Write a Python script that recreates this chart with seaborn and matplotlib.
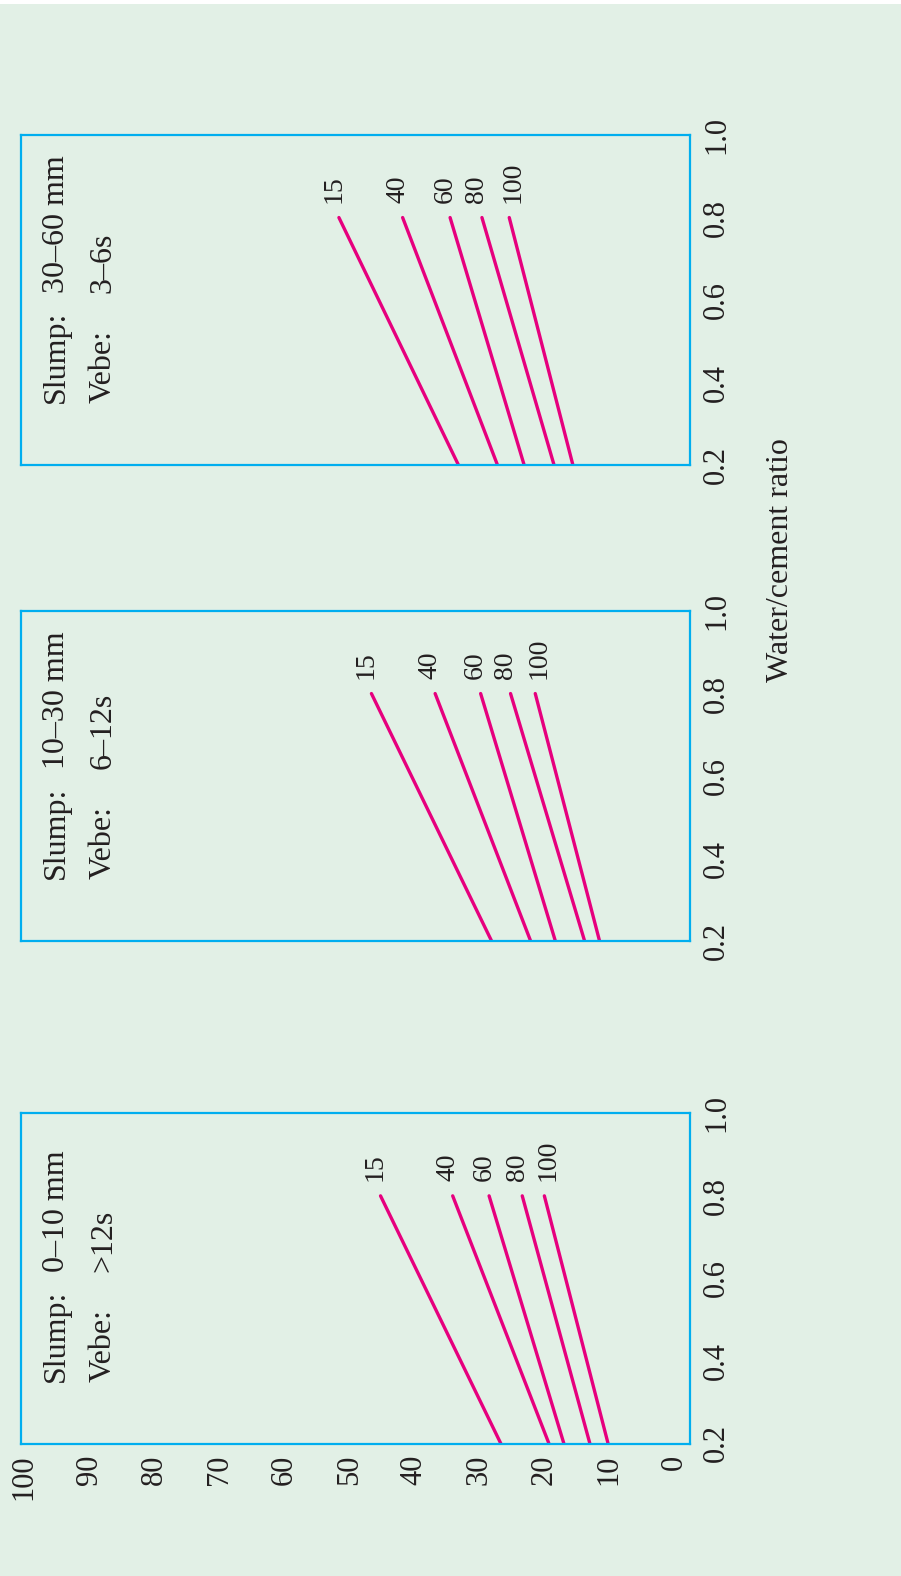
import numpy as np
import pandas as pd
import matplotlib
matplotlib.use("Agg")
import matplotlib.pyplot as plt
from matplotlib.patches import Rectangle
from matplotlib.ticker import FixedLocator, NullFormatter, FixedFormatter
import seaborn as sns

# ---------------- data ----------------
wc_points = [0.2, 0.8]                      # water/cement ratio at line ends
passing = ["15", "40", "60", "80", "100"]   # % passing 600 um sieve (line labels)

# proportion of fine aggregate (%) at w/c = 0.2 and 0.8, per panel
p1_at_02 = [26.7, 19.3, 17.0, 13.0, 10.2]
p1_at_08 = [45.2, 34.1, 28.5, 23.4, 20.0]
p2_at_02 = [28.1, 22.1, 18.3, 13.8, 11.5]
p2_at_08 = [46.6, 36.8, 29.8, 25.2, 21.4]
p3_at_02 = [33.2, 27.2, 23.1, 18.5, 15.6]
p3_at_08 = [51.6, 41.8, 34.5, 29.6, 25.4]

slump_labels = ["0\u201310 mm", "10\u201330 mm", "30\u201360 mm"]
vebe_labels = [">12s", "6\u201312s", "3\u20136s"]

value_ticks = [0, 10, 20, 30, 40, 50, 60, 70, 80, 90, 100]
value_minor = [10, 20, 30, 40, 50, 60, 70, 80, 90]
wc_ticks = [0.2, 0.4, 0.6, 0.8, 1.0]
wc_minor = [0.4, 0.6, 0.8]
xlabel = "Water/cement ratio"

# ---------------- style ----------------
BG = "#E2F0E6"
AX = "#00AEEF"
MAG = "#E6007E"
TXT = "#231F20"

sns.set_theme(style="white")
plt.rcParams["font.family"] = ["Liberation Serif", "DejaVu Serif"]
plt.rcParams["text.color"] = TXT
plt.rcParams["xtick.color"] = TXT
plt.rcParams["ytick.color"] = TXT

W, H = 901, 1576
fig = plt.figure(figsize=(W / 100, H / 100), dpi=100, facecolor=BG)
fig.patches.append(Rectangle((0, 1 - 4 / H), 1, 4 / H, transform=fig.transFigure,
                             facecolor="white", edgecolor="none", zorder=0))

left_px, right_px = 20.7, 690.3
panel_tops = [1113.3, 611.0, 135.0]   # pixel top of each panel (panel 1 lowest on page)
panel_h = 330.2

panels = [(p1_at_02, p1_at_08), (p2_at_02, p2_at_08), (p3_at_02, p3_at_08)]

for i, (lo, hi) in enumerate(panels):
    top = panel_tops[i]
    ax = fig.add_axes([left_px / W, (H - top - panel_h) / H,
                       (right_px - left_px) / W, panel_h / H])
    ax.set_facecolor("none")

    rows = []
    for lab, a, b in zip(passing, lo, hi):
        rows.append({"passing": lab, "fine": a, "wc": wc_points[0]})
        rows.append({"passing": lab, "fine": b, "wc": wc_points[1]})
    df = pd.DataFrame(rows)
    sns.lineplot(data=df, x="fine", y="wc", hue="passing", units="passing",
                 estimator=None, palette=[MAG] * len(passing), legend=False,
                 linewidth=2.4, ax=ax, sort=False)

    for k, (lab, b) in enumerate(zip(passing, hi)):
        dx = 4 if k == len(passing) - 1 else -5
        ax.annotate(lab, xy=(b, wc_points[1]), xytext=(dx, 15),
                    textcoords="offset pixels", rotation=90,
                    ha="center", va="bottom", fontsize=20, color=TXT)

    ax.set_xlim(100.55, -2.45)
    ax.set_ylim(0.2, 1.0)
    ax.set_xlabel("")
    ax.set_ylabel("")

    for s in ax.spines.values():
        s.set_color(AX)
        s.set_linewidth(1.6)
        s.set_visible(True)

    # value (horizontal) axis
    ax.xaxis.set_major_locator(FixedLocator(value_ticks))
    ax.xaxis.set_minor_locator(FixedLocator(value_minor))
    ax.xaxis.set_minor_formatter(NullFormatter())
    ax.tick_params(axis="x", which="major", length=0, pad=8,
                   labelsize=22, labelrotation=90, labelbottom=(i == 0),
                   bottom=True, top=False)
    ax.tick_params(axis="x", which="minor", direction="in", length=7.5,
                   width=1.0, color=AX, bottom=True, top=False)

    # water/cement ratio (vertical) axis, on the right
    ax.yaxis.tick_right()
    ax.yaxis.set_major_locator(FixedLocator(wc_ticks))
    ax.yaxis.set_major_formatter(FixedFormatter(["%.1f" % t for t in wc_ticks]))
    ax.yaxis.set_minor_locator(FixedLocator(wc_minor))
    ax.yaxis.set_minor_formatter(NullFormatter())
    ax.tick_params(axis="y", which="major", length=0, pad=8.5, labelsize=22,
                   labelrotation=90, left=False, right=True,
                   labelleft=False, labelright=True)
    ax.tick_params(axis="y", which="minor", direction="in", length=6,
                   width=1.5, color=(TXT if i == 0 else AX),
                   left=False, right=True)
    for t in ax.get_yticklabels():
        t.set_verticalalignment("center")

    # panel annotations
    ax.text(0.054, 0.187, "Slump:", transform=ax.transAxes, rotation=90,
            ha="center", va="bottom", fontsize=23, color=TXT)
    ax.text(0.054, 0.52, slump_labels[i], transform=ax.transAxes, rotation=90,
            ha="center", va="bottom", fontsize=23, color=TXT)
    ax.text(0.1235, 0.187, "Vebe:", transform=ax.transAxes, rotation=90,
            ha="center", va="bottom", fontsize=23, color=TXT)
    ax.text(0.1235, 0.52, vebe_labels[i], transform=ax.transAxes, rotation=90,
            ha="center", va="bottom", fontsize=23, color=TXT)

fig.text(780 / W, 1 - 560 / H, xlabel, rotation=90, ha="center", va="center",
         fontsize=23, color=TXT)

fig.savefig("out.png", dpi=100, facecolor=BG)
